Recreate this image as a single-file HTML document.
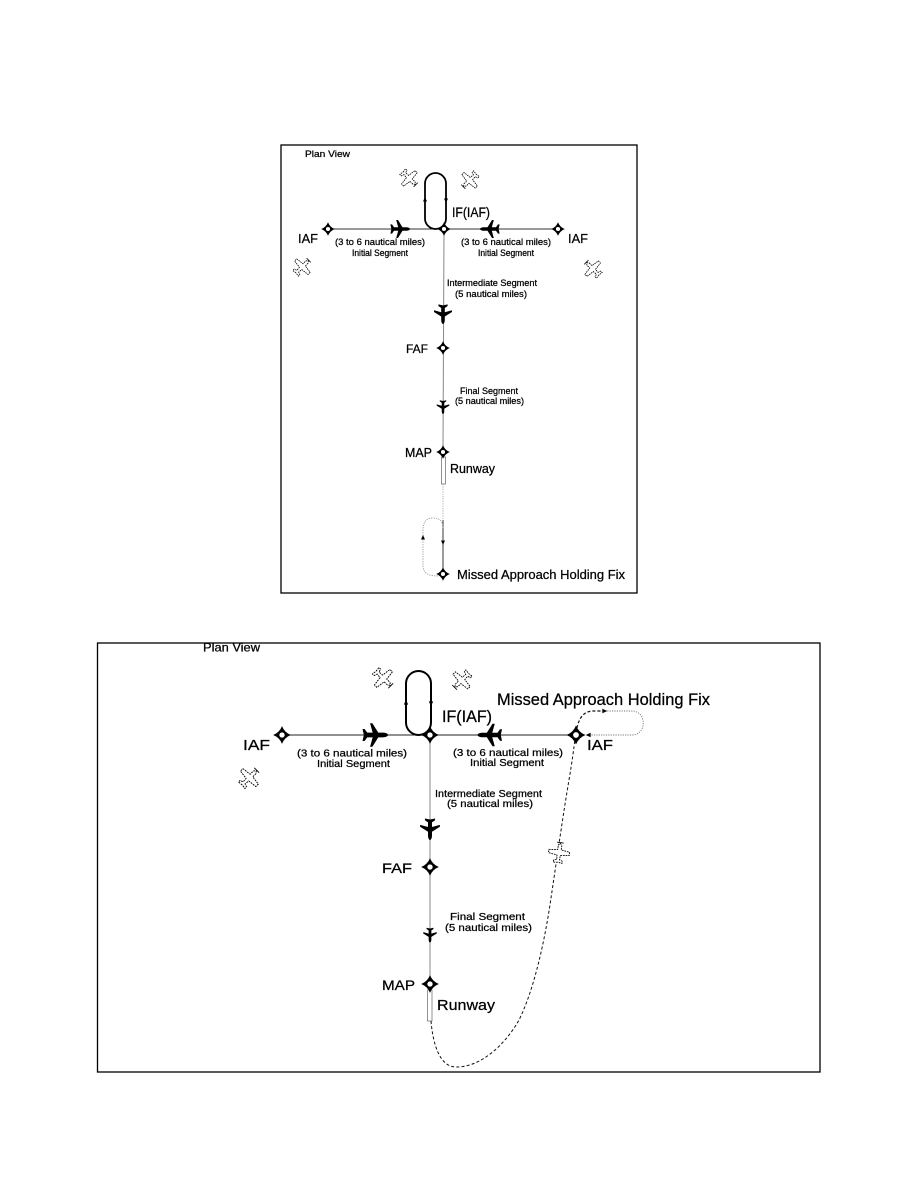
<!DOCTYPE html>
<html><head><meta charset="utf-8"><style>
html,body{margin:0;padding:0;background:#fff;}
svg{display:block;}
text{font-family:"Liberation Sans",Arial,sans-serif;fill:#000;stroke:#000;stroke-width:0.25;}
</style></head><body>
<svg width="918" height="1188" viewBox="0 0 918 1188" xmlns="http://www.w3.org/2000/svg">
<defs>
  <g id="fix">
    <path d="M0,-6.8 Q1.9,-1.9 6.8,0 Q1.9,1.9 0,6.8 Q-1.9,1.9 -6.8,0 Q-1.9,-1.9 0,-6.8Z" fill="#000"/>
    <circle r="2.5" fill="#fff" stroke="#000" stroke-width="0.9"/>
  </g>
  <path id="jet" d="M0,-10 C1,-10 1.8,-8 1.8,-6 L1.8,-2.5 L9,2 L9,3.8 L1.8,1.8 L1.8,6 L4.6,8 L4.6,9.6 L0,8.6 L-4.6,9.6 L-4.6,8 L-1.8,6 L-1.8,1.8 L-9,3.8 L-9,2 L-1.8,-2.5 L-1.8,-6 C-1.8,-8 -1,-10 0,-10Z" fill="#000"/>
  <g id="prop">
    <path d="M0,-9 L1.6,-7 L1.6,-3 L9.5,-2 L9.5,1 L1.6,2 L1.2,6 L4,7 L4,9 L0,8.4 L-4,9 L-4,7 L-1.2,6 L-1.6,2 L-9.5,1 L-9.5,-2 L-1.6,-3 L-1.6,-7Z" fill="#fff" stroke="#000" stroke-width="0.8" stroke-dasharray="1.6,0.8"/>
    <path d="M-3,-9.5 L3,-9.5" stroke="#000" stroke-width="0.8"/>
  </g>
  <path id="arr" d="M0,-3 L2,1.5 L-2,1.5Z" fill="#000"/>
</defs>

<!-- ================= TOP DIAGRAM ================= -->
<rect x="281" y="145" width="356" height="448" fill="none" stroke="#000" stroke-width="1.3"/>
<text x="305" y="157" font-size="9.5" textLength="45" lengthAdjust="spacingAndGlyphs">Plan View</text>

<line x1="328" y1="229" x2="558" y2="229" stroke="#333" stroke-width="1"/>
<line x1="444" y1="229" x2="443" y2="452" stroke="#888" stroke-width="1"/>
<rect x="425" y="173" width="21" height="56" rx="10.5" ry="10.5" fill="none" stroke="#000" stroke-width="1.8"/>
<use href="#arr" transform="translate(425,200)"/>
<use href="#arr" transform="translate(446,200) rotate(180)"/>

<rect x="441.5" y="457" width="4" height="27" fill="#fff" stroke="#777" stroke-width="0.8"/>
<line x1="443" y1="484" x2="443" y2="520" stroke="#999" stroke-width="0.8" stroke-dasharray="1.2,1.2"/>
<line x1="443" y1="520" x2="443" y2="574" stroke="#222" stroke-width="0.9"/>
<path d="M443,528 Q443,518 433,518 Q423,518 423,530 L423,566 Q423,576 438,576" fill="none" stroke="#888" stroke-width="0.8" stroke-dasharray="1.2,1.2"/>
<use href="#arr" transform="translate(443,542) rotate(180)"/>
<use href="#arr" transform="translate(423,538)"/>

<use href="#fix" transform="translate(328,229)"/>
<use href="#fix" transform="translate(444,229)"/>
<use href="#fix" transform="translate(558,229)"/>
<use href="#fix" transform="translate(443,348)"/>
<use href="#fix" transform="translate(443,452)"/>
<use href="#fix" transform="translate(443,574)"/>

<use href="#jet" transform="translate(400,229) rotate(90)"/>
<use href="#jet" transform="translate(490,229) rotate(-90)"/>
<use href="#jet" transform="translate(443,314) rotate(180)"/>
<use href="#jet" transform="translate(443,407) rotate(180) scale(0.7)"/>

<use href="#prop" transform="translate(409,178) rotate(135)"/>
<use href="#prop" transform="translate(470,180) rotate(225)"/>
<use href="#prop" transform="translate(302,267) rotate(45)"/>
<use href="#prop" transform="translate(593,269) rotate(-45)"/>

<text x="298" y="243" font-size="13" textLength="20" lengthAdjust="spacingAndGlyphs">IAF</text>
<text x="568" y="243" font-size="13" textLength="20" lengthAdjust="spacingAndGlyphs">IAF</text>
<text x="452" y="217" font-size="13.5" textLength="38" lengthAdjust="spacingAndGlyphs">IF(IAF)</text>
<text x="335" y="245" font-size="9" textLength="90" lengthAdjust="spacingAndGlyphs">(3 to 6 nautical miles)</text>
<text x="352" y="256" font-size="9" textLength="56" lengthAdjust="spacingAndGlyphs">Initial Segment</text>
<text x="461" y="245" font-size="9" textLength="90" lengthAdjust="spacingAndGlyphs">(3 to 6 nautical miles)</text>
<text x="478" y="256" font-size="9" textLength="56" lengthAdjust="spacingAndGlyphs">Initial Segment</text>
<text x="447" y="286" font-size="9" textLength="90" lengthAdjust="spacingAndGlyphs">Intermediate Segment</text>
<text x="455" y="297" font-size="9" textLength="72" lengthAdjust="spacingAndGlyphs">(5 nautical miles)</text>
<text x="406" y="353" font-size="12" textLength="22" lengthAdjust="spacingAndGlyphs">FAF</text>
<text x="460" y="394" font-size="9" textLength="58" lengthAdjust="spacingAndGlyphs">Final Segment</text>
<text x="455" y="404" font-size="9" textLength="69" lengthAdjust="spacingAndGlyphs">(5 nautical miles)</text>
<text x="405" y="457" font-size="12.5" textLength="27" lengthAdjust="spacingAndGlyphs">MAP</text>
<text x="450" y="473" font-size="12.5" textLength="45" lengthAdjust="spacingAndGlyphs">Runway</text>
<text x="457" y="579" font-size="13" textLength="168" lengthAdjust="spacingAndGlyphs">Missed Approach Holding Fix</text>

<!-- ================= BOTTOM DIAGRAM ================= -->
<rect x="97.5" y="643" width="722.5" height="429" fill="none" stroke="#000" stroke-width="1.3"/>
<text x="203" y="651.5" font-size="12" textLength="57" lengthAdjust="spacingAndGlyphs">Plan View</text>

<line x1="282" y1="735" x2="576" y2="735" stroke="#222" stroke-width="1"/>
<line x1="430" y1="735" x2="430" y2="984" stroke="#888" stroke-width="1"/>
<rect x="406" y="671" width="25" height="64" rx="12.5" ry="12.5" fill="none" stroke="#000" stroke-width="2"/>
<use href="#arr" transform="translate(406,703) scale(1.1)"/>
<use href="#arr" transform="translate(431,703) rotate(180) scale(1.1)"/>

<rect x="427.5" y="990" width="4.5" height="31" fill="#fff" stroke="#777" stroke-width="0.8"/>

<path d="M431,1021 C433,1045 440,1066 455,1067 C480,1068 505,1045 519,1020 C534,990 545,940 551,898 C557,858 563,815 569,780 C572,762 574,748 575,738" fill="none" stroke="#111" stroke-width="1" stroke-dasharray="3,2.2"/>
<path d="M576,733 C578,720 582,712 592,711 L600,711" fill="none" stroke="#111" stroke-width="1.2" stroke-dasharray="3,2"/>
<path d="M600,711 L632,711 C647,711 647,735 632,735 L590,735" fill="none" stroke="#777" stroke-width="0.9" stroke-dasharray="1.2,1.2"/>
<use href="#arr" transform="translate(604,711) rotate(90) scale(1.1)"/>
<use href="#arr" transform="translate(589,735) rotate(-90) scale(1.1)"/>

<use href="#fix" transform="translate(282,735) scale(1.3)"/>
<use href="#fix" transform="translate(430,735) scale(1.3)"/>
<use href="#fix" transform="translate(576,735) scale(1.4)"/>
<use href="#fix" transform="translate(430,867) scale(1.3)"/>
<use href="#fix" transform="translate(430,984) scale(1.3)"/>

<use href="#jet" transform="translate(375,735) rotate(90) scale(1.3)"/>
<use href="#jet" transform="translate(490,735) rotate(-90) scale(1.25)"/>
<use href="#jet" transform="translate(430,829) rotate(180) scale(1.1)"/>
<use href="#jet" transform="translate(430,935) rotate(180) scale(0.75)"/>

<use href="#prop" transform="translate(383,678) rotate(135) scale(1.15)"/>
<use href="#prop" transform="translate(462,680) rotate(225) scale(1.1)"/>
<use href="#prop" transform="translate(249,778) rotate(45) scale(1.15)"/>
<use href="#prop" transform="translate(559,853) rotate(8) scale(1.1)"/>

<text x="243" y="750" font-size="15" textLength="27" lengthAdjust="spacingAndGlyphs">IAF</text>
<text x="587" y="750" font-size="15" textLength="26" lengthAdjust="spacingAndGlyphs">IAF</text>
<text x="442" y="722" font-size="16.5" textLength="50" lengthAdjust="spacingAndGlyphs">IF(IAF)</text>
<text x="497" y="705" font-size="16.5" textLength="213" lengthAdjust="spacingAndGlyphs">Missed Approach Holding Fix</text>
<text x="297" y="756.5" font-size="10.5" textLength="110" lengthAdjust="spacingAndGlyphs">(3 to 6 nautical miles)</text>
<text x="317" y="767" font-size="10.5" textLength="73" lengthAdjust="spacingAndGlyphs">Initial Segment</text>
<text x="453" y="756" font-size="10.5" textLength="110" lengthAdjust="spacingAndGlyphs">(3 to 6 nautical miles)</text>
<text x="470" y="766" font-size="10.5" textLength="74" lengthAdjust="spacingAndGlyphs">Initial Segment</text>
<text x="435" y="797" font-size="10.5" textLength="107" lengthAdjust="spacingAndGlyphs">Intermediate Segment</text>
<text x="447" y="807" font-size="10.5" textLength="86" lengthAdjust="spacingAndGlyphs">(5 nautical miles)</text>
<text x="382" y="873" font-size="14" textLength="30" lengthAdjust="spacingAndGlyphs">FAF</text>
<text x="450" y="920" font-size="10.5" textLength="75" lengthAdjust="spacingAndGlyphs">Final Segment</text>
<text x="445" y="931" font-size="10.5" textLength="87" lengthAdjust="spacingAndGlyphs">(5 nautical miles)</text>
<text x="382" y="990" font-size="14" textLength="33" lengthAdjust="spacingAndGlyphs">MAP</text>
<text x="437" y="1010" font-size="15" textLength="58" lengthAdjust="spacingAndGlyphs">Runway</text>
</svg>
</body></html>
